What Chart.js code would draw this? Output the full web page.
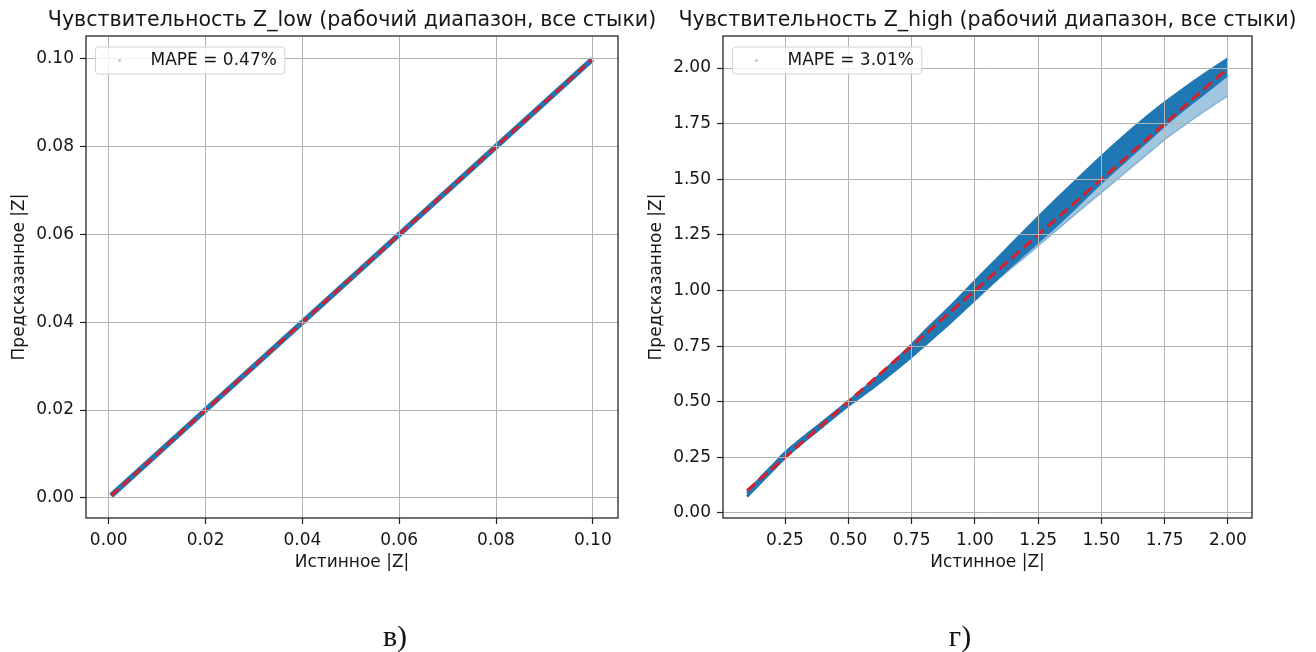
<!DOCTYPE html>
<html>
<head>
<meta charset="utf-8">
<script src="https://cdn.jsdelivr.net/npm/chart.js@4.4.0/dist/chart.umd.min.js"></script>
<style>
  html, body { margin: 0; padding: 0; background: #fff; }
  #wrap { position: relative; width: 1316px; height: 652px; overflow: hidden; background: #fff; }
  #wrap canvas { position: absolute; left: 0; top: 0; }
  .cap {
    position: absolute; transform: translateX(-50%);
    font-family: "Liberation Serif", "DejaVu Serif", serif;
    font-size: 30px; line-height: 30px; color: #111; white-space: nowrap;
  }
</style>
</head>
<body>
<div id="wrap">
  <canvas id="cLow" width="1316" height="652"></canvas>
  <canvas id="cHigh" width="1316" height="652"></canvas>
  <div class="cap" style="left:395px; top:621px;">в)</div>
  <div class="cap" style="left:960px; top:621px;">г)</div>
</div>

<script>
// ---- Z_low panel: true vs predicted |Z| ----
const lowTrue  = [0.0005, 0.0200, 0.0400, 0.0600, 0.0800, 0.0999];
const lowPred  = [0.0005, 0.0200, 0.0400, 0.0600, 0.0800, 0.0999];
const lowIdeal = [0.0005, 0.0999];
const lowTicksX = [0.00, 0.02, 0.04, 0.06, 0.08, 0.10];
const lowTicksY = [0.00, 0.02, 0.04, 0.06, 0.08, 0.10];
const mapeLow = 0.47;

// ---- Z_high panel: predicted |Z| spread for each true |Z| ----
const highTrue       = [0.10, 0.15, 0.20, 0.25, 0.30, 0.40, 0.50, 0.60, 0.70, 0.75, 0.80, 0.90, 1.00,
                        1.10, 1.20, 1.25, 1.30, 1.40, 1.50, 1.60, 1.70, 1.75, 1.80, 1.90, 2.00];
const highPredUpper  = [0.090, 0.155, 0.213, 0.272, 0.320, 0.410, 0.502, 0.597, 0.702, 0.757, 0.815, 0.925, 1.042,
                        1.157, 1.273, 1.330, 1.386, 1.495, 1.603, 1.705, 1.800, 1.845, 1.887, 1.967, 2.043];
const highPredDense  = [0.074, 0.132, 0.190, 0.248, 0.298, 0.390, 0.482, 0.565, 0.655, 0.702, 0.752, 0.852, 0.958,
                        1.065, 1.168, 1.218, 1.268, 1.375, 1.485, 1.588, 1.690, 1.742, 1.790, 1.880, 1.970];
const highPredLower  = [0.074, 0.132, 0.190, 0.248, 0.298, 0.390, 0.482, 0.565, 0.655, 0.702, 0.752, 0.852, 0.958,
                        1.058, 1.152, 1.200, 1.248, 1.345, 1.440, 1.535, 1.630, 1.678, 1.720, 1.800, 1.875];
const highIdeal = [0.10, 2.00];
const highTicksX = [0.25, 0.50, 0.75, 1.00, 1.25, 1.50, 1.75, 2.00];
const highTicksY = [0.00, 0.25, 0.50, 0.75, 1.00, 1.25, 1.50, 1.75, 2.00];
const mapeHigh = 3.01;

const FONT = '"DejaVu Sans", "Liberation Sans", sans-serif';
const INK = '#161616';
const BLUE = '#1f77b4';
const BLUE_LIGHT = 'rgba(31,119,180,0.42)';
const RED = '#d7202b';

const pts = (xs, ys) => xs.map((x, i) => ({ x, y: ys[i] }));

// title, legend box and full axes frame
const panelDecor = {
  id: 'panelDecor',
  afterDraw(chart, args, opts) {
    const { ctx, chartArea: a } = chart;
    ctx.save();
    ctx.strokeStyle = '#262626';
    ctx.lineWidth = 1.3;
    ctx.strokeRect(a.left, a.top, a.right - a.left, a.bottom - a.top);

    ctx.fillStyle = INK;
    ctx.font = `20.6px ${FONT}`;
    ctx.textAlign = 'center';
    ctx.textBaseline = 'alphabetic';
    ctx.fillText(opts.title, (a.left + a.right) / 2, a.top - 10.5);

    const label = chart.data.datasets[opts.legendDataset].label;
    ctx.font = `17px ${FONT}`;
    const tw = ctx.measureText(label).width;
    const bx = a.left + 9.5, by = a.top + 11, bh = 27, bw = 55 + tw + 8;
    ctx.beginPath();
    ctx.roundRect(bx, by, bw, bh, 3);
    ctx.fillStyle = 'rgba(255,255,255,0.8)';
    ctx.fill();
    ctx.strokeStyle = '#d4d4d4';
    ctx.lineWidth = 1;
    ctx.stroke();
    ctx.beginPath();
    ctx.arc(bx + 24, by + bh / 2, 1.6, 0, Math.PI * 2);
    ctx.fillStyle = 'rgba(31,119,180,0.35)';
    ctx.fill();
    ctx.fillStyle = INK;
    ctx.textAlign = 'left';
    ctx.textBaseline = 'middle';
    ctx.fillText(label, bx + 55, by + bh / 2 + 0.5);
    ctx.restore();
  }
};

function axis(min, max, tickValues, titleText, isY, width) {
  return {
    type: 'linear',
    min, max,
    afterBuildTicks: (s) => { s.ticks = tickValues.map(v => ({ value: v })); },
    afterFit: (s) => { if (isY) s.width = width; else s.height = 60; },
    ticks: {
      font: { family: FONT, size: 17 },
      color: INK,
      padding: 6,
      callback: (v) => Number(v).toFixed(2),
      maxRotation: 0,
      autoSkip: false
    },
    grid: {
      color: '#b3b3b3',
      lineWidth: 1,
      tickColor: '#262626',
      tickLength: 6,
      tickWidth: 1.2,
      z: 1
    },
    border: { display: false },
    title: {
      display: true,
      text: titleText,
      color: INK,
      font: { family: FONT, size: 17 },
      padding: isY ? { top: 9.8, bottom: 0 } : { top: 0, bottom: 4.8 }
    }
  };
}

function baseOptions(padLeft, padRight, xs, ys, title) {
  return {
    responsive: false,
    animation: false,
    events: [],
    layout: { autoPadding: false, padding: { left: padLeft, right: padRight, top: 36, bottom: 74 } },
    plugins: {
      legend: { display: false },
      tooltip: { enabled: false },
      title: { display: false },
      panelDecor: { title, legendDataset: 1 }
    },
    scales: { x: xs, y: ys },
    elements: { point: { radius: 0 } }
  };
}

// left panel: Z_low
new Chart(document.getElementById('cLow'), {
  type: 'line',
  data: {
    datasets: [
      {
        label: 'ideal',
        data: pts(lowIdeal, lowIdeal),
        borderColor: RED, borderWidth: 3, borderDash: [10, 5],
        fill: false, pointRadius: 0
      },
      {
        label: `MAPE = ${mapeLow.toFixed(2)}%`,
        data: pts(lowTrue, lowPred),
        borderColor: BLUE, borderWidth: 5.5,
        fill: false, pointRadius: 0
      }
    ]
  },
  options: baseOptions(0, 1316 - 618,
    axis(-0.0047, 0.1052, lowTicksX, 'Истинное |Z|', false),
    axis(-0.0046, 0.1052, lowTicksY, 'Предсказанное |Z|', true, 86),
    'Чувствительность Z_low (рабочий диапазон, все стыки)'),
  plugins: [panelDecor]
});

// right panel: Z_high
const band = { pointRadius: 0, cubicInterpolationMode: 'monotone' };
new Chart(document.getElementById('cHigh'), {
  type: 'line',
  data: {
    datasets: [
      {
        label: 'ideal',
        data: pts(highIdeal, highIdeal),
        borderColor: RED, borderWidth: 3, borderDash: [11, 5],
        fill: false, pointRadius: 0
      },
      {
        label: `MAPE = ${mapeHigh.toFixed(2)}%`,
        data: pts(highTrue, highPredUpper),
        borderColor: BLUE, borderWidth: 2.5, backgroundColor: BLUE,
        fill: '+1', ...band
      },
      {
        label: 'dense',
        data: pts(highTrue, highPredDense),
        borderColor: BLUE, borderWidth: 2.5,
        fill: false, ...band
      },
      {
        label: 'spread',
        data: pts(highTrue, highPredUpper),
        borderColor: 'rgba(0,0,0,0)', borderWidth: 0, backgroundColor: BLUE_LIGHT,
        fill: '+1', ...band
      },
      {
        label: 'lower',
        data: pts(highTrue, highPredLower),
        borderColor: BLUE_LIGHT, borderWidth: 1.5,
        fill: false, ...band
      }
    ]
  },
  options: baseOptions(723 - 86, 1316 - 1252,
    axis(0.005, 2.095, highTicksX, 'Истинное |Z|', false),
    axis(-0.0225, 2.144, highTicksY, 'Предсказанное |Z|', true, 86),
    'Чувствительность Z_high (рабочий диапазон, все стыки)'),
  plugins: [panelDecor]
});
</script>
</body>
</html>
